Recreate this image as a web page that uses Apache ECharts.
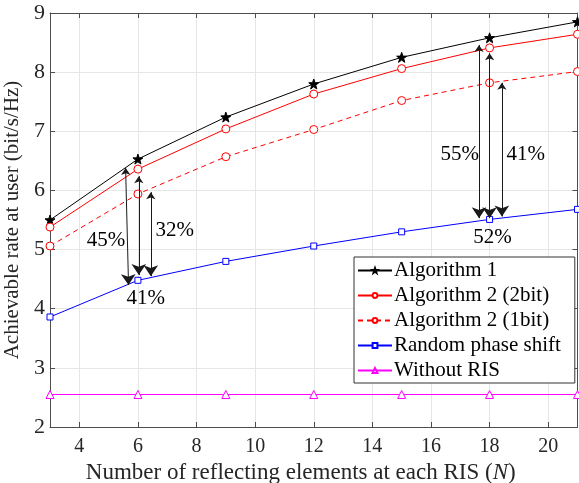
<!DOCTYPE html>
<html>
<head>
<meta charset="utf-8">
<script src="https://cdn.jsdelivr.net/npm/echarts@6/dist/echarts.min.js"></script>
<style>
  html, body { margin: 0; padding: 0; background: #fff; }
  #chart { width: 579px; height: 483px; }
</style>
</head>
<body>
<div id="chart"></div>
<script>
const N = [3, 6, 9, 12, 15, 18, 21];
const alg1 = [5.50, 6.53, 7.24, 7.80, 8.25, 8.58, 8.85];
const alg2bit2 = [5.38, 6.36, 7.04, 7.63, 8.06, 8.41, 8.64];
const alg2bit1 = [5.06, 5.94, 6.57, 7.03, 7.52, 7.82, 8.01];
const randomPhase = [3.86, 4.48, 4.80, 5.06, 5.30, 5.51, 5.68];
const withoutRIS = [2.55, 2.55, 2.55, 2.55, 2.55, 2.55, 2.55];

const xTicks = [4, 6, 8, 10, 12, 14, 16, 18, 20];

// double arrows: [x1, y1, x2, y2]
const arrows = [
  [5.58, 6.38, 5.68, 4.40],
  [6.03, 6.24, 6.03, 4.57],
  [6.44, 5.97, 6.44, 4.55],
  [17.64, 8.46, 17.64, 5.53],
  [18.0, 8.32, 18.0, 5.53],
  [18.42, 7.82, 18.42, 5.56]
];
// annotation text: [x, y, text]
const notes = [
  [4.91, 5.16, "45%"],
  [7.26, 5.33, "32%"],
  [6.27, 4.18, "41%"],
  [16.98, 6.60, "55%"],
  [19.23, 6.60, "41%"],
  [18.1, 5.21, "52%"]
];

const FONT = "Liberation Serif";
const STAR = "path://M0,-10L2.35,-3.24L9.51,-3.09L3.8,1.24L5.88,8.09L0,4L-5.88,8.09L-3.8,1.24L-9.51,-3.09L-2.35,-3.24Z";

const pairs = (ys) => N.map((x, i) => [x, ys[i]]);

function lineSeries(name, ys, color, symbol, size, dashed, filled) {
  return {
    name: name,
    type: "line",
    data: pairs(ys),
    symbol: symbol,
    symbolSize: size,
    showAllSymbol: true,
    lineStyle: { color: color, width: 1, type: dashed ? [5, 4] : "solid" },
    itemStyle: { color: filled ? color : "#fff", borderColor: color, borderWidth: 1 },
    animation: false,
    z: 3
  };
}

const chart = echarts.init(document.getElementById("chart"));

const axisLineStyle = { color: "#4d4d4d", width: 1 };

chart.setOption({
  animation: false,
  backgroundColor: "#fff",
  textStyle: { fontFamily: FONT },
  grid: { left: 50, right: 1.5, top: 13, bottom: 56, outerBoundsMode: "none", containLabel: false },
  legend: {
    orient: "vertical",
    left: 354,
    top: 257,
    itemWidth: 34,
    itemHeight: 6,
    itemGap: 4,
    padding: [3, 14, 2, 3],
    backgroundColor: "#fff",
    borderColor: "#333",
    borderWidth: 1,
    borderRadius: 0,
    textStyle: { fontFamily: FONT, fontSize: 21, lineHeight: 21, color: "#000", padding: [0, 0, 0, -3] },
    data: ["Algorithm 1", "Algorithm 2 (2bit)", "Algorithm 2 (1bit)", "Random phase shift", "Without RIS"]
  },
  xAxis: [
    {
      type: "value",
      min: 3,
      max: 21,
      name: "Number of reflecting elements at each RIS ({i|N})",
      nameLocation: "middle",
      nameGap: 31,
      nameTextStyle: {
        fontFamily: FONT, fontSize: 23, color: "#262626",
        padding: [0, 26, 0, 0],
        rich: { i: { fontFamily: FONT, fontSize: 23, fontStyle: "italic", color: "#262626" } }
      },
      axisLine: { show: true, lineStyle: axisLineStyle },
      axisTick: { show: true, inside: true, length: 5, customValues: xTicks, lineStyle: axisLineStyle },
      axisLabel: { customValues: xTicks, fontFamily: FONT, fontSize: 20, color: "#262626", margin: 10 },
      splitLine: { show: true, lineStyle: { color: "#e6e6e6", width: 1 } }
    },
    {
      type: "value",
      position: "top",
      min: 3,
      max: 21,
      axisLine: { show: true, lineStyle: axisLineStyle },
      axisTick: { show: true, inside: true, length: 5, customValues: xTicks, lineStyle: axisLineStyle },
      axisLabel: { show: false },
      splitLine: { show: false }
    }
  ],
  yAxis: [
    {
      type: "value",
      min: 2,
      max: 9,
      interval: 1,
      name: "Achievable rate at user (bit/s/Hz)",
      nameLocation: "middle",
      nameGap: 15,
      nameTextStyle: { fontFamily: FONT, fontSize: 21, color: "#262626" },
      axisLine: { show: true, lineStyle: axisLineStyle },
      axisTick: { show: true, inside: true, length: 5, lineStyle: axisLineStyle },
      axisLabel: { fontFamily: FONT, fontSize: 22, color: "#262626", margin: 5 },
      splitLine: { show: true, lineStyle: { color: "#e6e6e6", width: 1 } }
    },
    {
      type: "value",
      position: "right",
      min: 2,
      max: 9,
      interval: 1,
      axisLine: { show: true, lineStyle: axisLineStyle },
      axisTick: { show: true, inside: true, length: 5, lineStyle: axisLineStyle },
      axisLabel: { show: false },
      splitLine: { show: false }
    }
  ],
  series: [
    lineSeries("Algorithm 1", alg1, "#000000", STAR, 10, false, true),
    lineSeries("Algorithm 2 (2bit)", alg2bit2, "#ff0000", "circle", 8, false, false),
    lineSeries("Algorithm 2 (1bit)", alg2bit1, "#ff0000", "circle", 8, true, false),
    lineSeries("Random phase shift", randomPhase, "#0000ff", "rect", 6, false, false),
    lineSeries("Without RIS", withoutRIS, "#ff00ff", "triangle", 8, false, false),
    {
      type: "lines",
      coordinateSystem: "cartesian2d",
      symbol: ["arrow", "arrow"],
      symbolSize: [7, 11],
      lineStyle: { color: "#1a1a1a", width: 1, opacity: 1 },
      data: arrows.map((a) => ({ coords: [[a[0], a[1]], [a[2], a[3]]] })),
      silent: true,
      z: 4
    },
    {
      type: "scatter",
      symbolSize: 0,
      itemStyle: { opacity: 1 },
      data: notes.map((n) => ({ value: [n[0], n[1]], name: n[2] })),
      label: {
        show: true,
        position: "inside",
        formatter: "{b}",
        fontFamily: FONT,
        fontSize: 21,
        color: "#000",
        opacity: 1,
        textBorderWidth: 0
      },
      silent: true,
      z: 5
    }
  ]
});
</script>
</body>
</html>
